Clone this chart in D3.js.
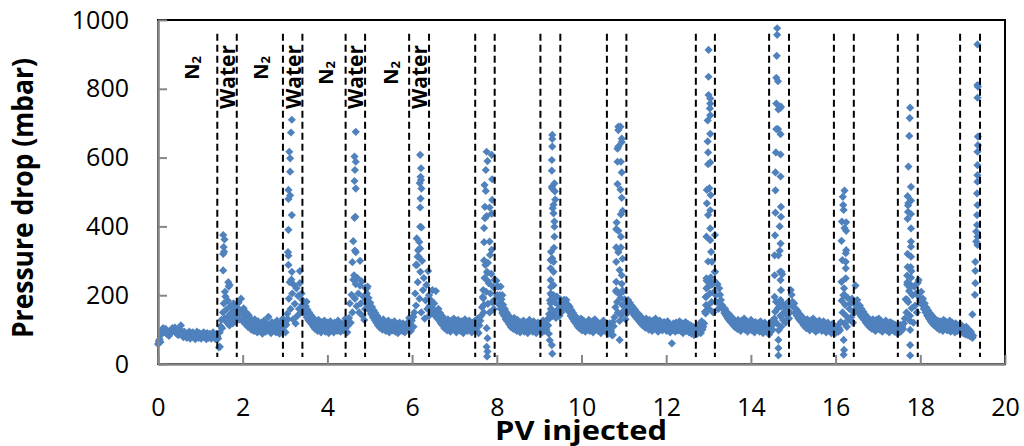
<!DOCTYPE html>
<html>
<head>
<meta charset="utf-8">
<script src="https://cdn.jsdelivr.net/npm/d3@7/dist/d3.min.js"></script>
<style>
  html, body { margin: 0; padding: 0; background: #fff; }
  svg { display: block; }
  text { font-family: "Open Sans", "Noto Sans", sans-serif; fill: #000; }
</style>
</head>
<body>
<svg id="chart" width="1024" height="446"></svg>
<script>
// Pressure drop recorded while alternating N2 and water slugs are injected.

// Axis ticks
const xTicks = [0, 2, 4, 6, 8, 10, 12, 14, 16, 18, 20];
const yTicks = [0, 200, 400, 600, 800, 1000];

// Boundaries of every water slug (PV injected): start and end
const slugStart = [1.40, 2.95, 4.43, 5.93, 7.49, 9.03, 10.60, 12.70, 14.43, 15.96, 17.47, 18.94];
const slugEnd   = [1.86, 3.41, 4.89, 6.40, 7.95, 9.50, 11.06, 13.15, 14.90, 16.43, 17.94, 19.41];

// Phase labels for the first four cycles
const gasLabelPV   = [0.78, 2.41, 3.94, 5.48];
const waterLabelPV = [1.63, 3.19, 4.65, 6.16];

// Continuous logging: each run spans [runStart, runEnd] with evenly sampled readings (mbar)
const runStart = [0.00, 1.42, 1.86, 2.95, 3.41, 4.43, 4.89, 5.93, 6.40, 7.49, 7.95, 9.03,
                  9.50, 10.60, 11.06, 12.70, 13.15, 14.43, 14.90, 15.96, 16.43, 17.47, 17.94, 18.94];
const runEnd   = [1.40, 1.86, 2.95, 3.41, 4.43, 4.89, 5.93, 6.40, 7.49, 7.95, 9.03, 9.50,
                  10.60, 11.06, 12.70, 13.15, 14.43, 14.90, 15.96, 16.43, 17.47, 17.94, 18.94, 19.25];
const runDP = [
  [58, 66, 72, 64, 86, 98, 104, 100, 94, 102, 90, 86, 94, 82, 88, 92, 98, 104, 100, 96, 106, 92, 88, 96, 84, 90, 100, 112, 92, 86, 78, 94, 84, 88, 76, 90, 82, 94, 74, 86, 80, 92, 78, 88, 72, 84, 94, 80, 76, 90, 84, 74, 88, 80, 92, 78, 84, 72, 90, 82, 76, 88, 80, 74, 86, 92, 78, 84, 72, 88, 80],
  [74, 48, 92, 110, 128, 104, 150, 176, 132, 196, 158, 120, 184, 140, 112, 168, 130, 150, 118, 176, 136, 160, 124, 146],
  [165, 142, 178, 130, 156, 190, 148, 124, 162, 138, 116, 150, 128, 108, 142, 120, 132, 100, 126, 112, 96, 130, 108, 118, 92, 124, 104, 114, 98, 120, 88, 110, 126, 102, 94, 116, 106, 137, 98, 112, 90, 122, 104, 96, 118, 108, 92, 126, 100, 114, 88, 106, 120, 98, 132],
  [108, 96, 125, 92, 114, 146, 130, 190, 238, 160, 245, 205, 130, 230, 175, 118, 220, 140, 198, 160, 235, 150, 205, 172],
  [186, 160, 176, 148, 168, 136, 158, 128, 150, 122, 142, 116, 136, 108, 130, 102, 124, 112, 96, 128, 106, 118, 92, 122, 110, 100, 126, 94, 114, 104, 120, 90, 108, 124, 98, 116, 102, 92, 120, 106, 112, 96, 126, 100, 110, 94, 118, 104, 98, 114, 120, 132],
  [104, 122, 92, 112, 134, 176, 120, 201, 150, 245, 258, 190, 232, 168, 250, 205, 150, 228, 176, 240, 140, 196, 128, 160],
  [222, 186, 205, 170, 192, 156, 178, 145, 166, 136, 156, 128, 148, 120, 140, 112, 132, 106, 126, 116, 100, 130, 110, 122, 96, 118, 106, 126, 92, 114, 102, 120, 98, 110, 124, 94, 116, 104, 90, 112, 120, 100, 108, 96, 118, 104, 92, 110, 100, 116, 122, 134],
  [112, 100, 96, 126, 137, 108, 150, 205, 170, 288, 238, 312, 190, 268, 150, 300, 215, 250, 132, 185, 230, 160, 270, 140],
  [200, 170, 186, 150, 215, 160, 176, 140, 212, 152, 132, 160, 126, 148, 118, 140, 112, 134, 104, 128, 118, 98, 130, 110, 122, 94, 126, 106, 116, 132, 100, 120, 92, 112, 128, 104, 118, 96, 124, 108, 90, 114, 130, 102, 120, 96, 110, 126, 100, 116, 92, 108, 122, 104, 126],
  [118, 104, 96, 132, 90, 112, 126, 140, 165, 195, 150, 250, 288, 210, 268, 175, 235, 150, 205, 262, 180, 225, 160, 245],
  [222, 190, 242, 200, 225, 175, 200, 160, 188, 148, 172, 140, 160, 130, 150, 124, 142, 116, 136, 108, 128, 120, 102, 134, 112, 124, 96, 128, 106, 118, 92, 122, 110, 100, 126, 94, 116, 104, 120, 90, 112, 128, 98, 118, 106, 94, 124, 102, 114, 90, 108, 120, 100, 112, 96],
  [108, 98, 92, 126, 104, 96, 118, 100, 130, 112, 145, 185, 160, 200, 140, 192, 150, 178, 134, 196, 158, 172, 140, 188],
  [170, 150, 181, 160, 186, 165, 178, 186, 158, 172, 152, 166, 140, 156, 132, 148, 124, 140, 118, 134, 110, 128, 104, 122, 132, 98, 116, 126, 108, 94, 120, 112, 102, 128, 96, 118, 106, 124, 92, 114, 130, 100, 110, 122, 96, 108, 118, 90, 112, 104, 126, 98, 110, 94, 116],
  [104, 92, 88, 118, 100, 96, 84, 122, 110, 136, 165, 210, 180, 150, 205, 125, 192, 142, 172, 210, 155, 188, 130, 168],
  [160, 148, 186, 167, 178, 158, 170, 150, 164, 142, 158, 136, 150, 130, 146, 124, 140, 118, 134, 112, 128, 120, 106, 132, 114, 124, 100, 128, 110, 118, 96, 126, 106, 116, 132, 102, 120, 94, 112, 126, 104, 118, 98, 114, 122, 110, 108, 96, 124, 104, 116, 92, 110, 60, 100, 118, 106, 94, 120, 108, 98, 114, 124, 96, 106, 118, 90, 112, 102, 122, 96, 108, 116, 92, 104, 112, 88, 100, 108, 84, 96, 90],
  [98, 108, 88, 114, 96, 104, 90, 124, 100, 108, 118, 152, 195, 242, 170, 225, 160, 205, 252, 180, 232, 150, 210, 240],
  [268, 200, 180, 232, 160, 220, 201, 186, 172, 162, 157, 148, 160, 140, 150, 132, 146, 126, 140, 120, 134, 114, 130, 108, 124, 116, 102, 128, 110, 120, 96, 126, 106, 118, 132, 100, 114, 124, 94, 110, 120, 104, 128, 98, 116, 108, 92, 122, 112, 100, 118, 106, 94, 124, 102, 114, 90, 108, 120, 98, 104, 112, 92, 86],
  [108, 100, 94, 124, 100, 116, 132, 152, 181, 118, 162, 98, 172, 140, 108, 176, 128, 150, 168, 120, 158, 140, 180, 132],
  [172, 150, 215, 201, 181, 165, 176, 148, 160, 140, 154, 132, 146, 126, 140, 120, 134, 112, 128, 120, 104, 130, 114, 124, 98, 126, 108, 118, 132, 102, 116, 94, 122, 110, 100, 126, 106, 118, 96, 112, 124, 102, 114, 92, 108, 120, 98, 110, 104, 90, 116, 100, 96],
  [100, 110, 90, 104, 110, 94, 104, 98, 122, 184, 150, 200, 118, 172, 140, 108, 192, 128, 160, 176, 136, 190, 120, 150],
  [176, 150, 228, 162, 186, 170, 148, 170, 140, 160, 134, 152, 128, 144, 120, 138, 114, 132, 108, 126, 118, 102, 130, 112, 124, 96, 128, 106, 118, 132, 100, 114, 124, 94, 110, 120, 104, 126, 98, 116, 108, 92, 122, 112, 100, 118, 106, 94, 114, 102, 90, 108],
  [106, 96, 92, 114, 96, 108, 102, 118, 132, 188, 150, 238, 180, 212, 140, 230, 162, 200, 120, 225, 170, 205, 150, 236],
  [205, 244, 193, 184, 210, 172, 190, 160, 176, 150, 164, 140, 156, 132, 148, 124, 142, 118, 136, 112, 130, 120, 106, 126, 114, 100, 124, 110, 118, 96, 128, 104, 116, 122, 98, 112, 106, 126, 94, 114, 120, 100, 110, 92, 118, 104, 96, 112, 100, 108],
  [104, 94, 112, 98, 90, 106, 100, 86, 108, 96, 84, 100, 92, 80, 94, 86, 76, 82]
];

// Pressure spikes while the water slugs pass: PV injected and pressure drop (mbar)
const spikePV = [
  1.54, 1.57, 1.55, 1.56, 1.54, 1.54, 1.66, 1.69, 1.67, 1.58, 1.46,
  3.16, 3.14, 3.10, 3.12, 3.12, 3.08, 3.12, 3.08, 3.16, 3.08, 3.07, 3.08, 3.08, 3.16, 3.35, 3.51,
  4.67, 4.64, 4.67, 4.65, 4.64, 4.67, 4.66, 4.64, 4.61, 4.65, 4.67, 4.59, 4.77, 4.93, 4.95,
  6.19, 6.21, 6.20, 6.21, 6.18, 6.22, 6.20, 6.19, 6.19, 6.22, 6.11, 6.17, 6.19, 6.14, 6.03, 6.13, 6.09,
  7.76, 7.88, 7.78, 7.74, 7.89, 7.71, 7.74, 7.89, 7.72, 7.83, 7.76, 7.72, 7.88, 7.70, 7.70, 7.83, 7.88,
  7.84, 7.70, 7.79, 7.78, 7.79, 7.68, 7.68, 7.70, 7.76, 7.78, 7.76, 7.78, 7.77, 8.09, 8.13, 8.05,
  9.31, 9.31, 9.31, 9.30, 9.30, 9.36, 9.30, 9.31, 9.37, 9.38, 9.34, 9.32, 9.34, 9.36, 9.36, 9.36, 9.35,
  9.28, 9.31, 9.27, 9.34, 9.27, 9.34, 9.27, 9.34, 9.28, 9.27, 9.34, 9.27, 9.31, 9.25, 9.23, 9.25, 9.31,
  9.30, 9.57, 9.60, 9.62,
  10.87, 10.92, 10.87, 10.95, 10.87, 10.85, 10.95, 10.85, 10.93, 10.95, 10.85, 10.92, 10.95, 10.97,
  10.93, 10.83, 10.82, 10.87, 10.93, 10.82, 10.93, 10.87, 10.97, 10.82, 10.90, 10.95, 10.82, 10.95,
  10.82, 10.90, 10.97, 10.90, 10.74,
  13.00, 13.00, 13.00, 13.04, 13.04, 13.03, 13.04, 12.98, 13.04, 12.98, 12.99, 13.04, 12.99, 13.02,
  12.96, 13.05, 12.96, 13.04, 12.99, 13.04, 12.95, 13.04, 13.06, 12.99, 13.08, 12.95, 13.05, 13.06,
  12.95, 12.94, 12.94, 12.93, 13.15, 13.15,
  14.62, 14.62, 14.61, 14.60, 14.64, 14.60, 14.65, 14.70, 14.71, 14.60, 14.64, 14.70, 14.59, 14.70,
  14.58, 14.70, 14.58, 14.71, 14.58, 14.71, 14.68, 14.57, 14.70, 14.68, 14.56, 14.65, 14.56, 14.69,
  14.72, 14.70, 14.74, 14.71, 14.56, 14.70, 14.71, 14.65, 14.65, 14.65,
  16.21, 16.17, 16.18, 16.19, 16.15, 16.25, 16.21, 16.25, 16.14, 16.25, 16.24, 16.16, 16.24, 16.24,
  16.24, 16.14, 16.20, 16.21, 16.19, 16.20, 16.19,
  17.76, 17.75, 17.74, 17.72, 17.78, 17.70, 17.78, 17.72, 17.71, 17.71, 17.70, 17.78, 17.78, 17.78,
  17.78, 17.70, 17.78, 17.70, 17.77, 17.79, 17.69, 17.78, 17.69, 17.76, 17.68, 17.76, 17.76, 17.76, 17.76,
  19.35, 19.35, 19.36, 19.35, 19.36, 19.36, 19.35, 19.35, 19.35, 19.35, 19.34, 19.35, 19.34, 19.34,
  19.35, 19.32, 19.35, 19.32, 19.30, 19.30, 19.30, 19.29, 19.23
];
const spikeDP = [
  375, 362, 340, 326, 320, 272, 238, 230, 225, 210, 50,
  710, 673, 617, 598, 559, 506, 490, 480, 433, 390, 325, 315, 288, 268, 270, 181,
  675, 603, 588, 564, 532, 510, 428, 425, 357, 330, 325, 296, 300, 220, 225,
  608, 569, 544, 535, 526, 510, 481, 455, 399, 397, 365, 355, 336, 331, 137, 312, 288,
  617, 608, 590, 564, 537, 520, 503, 477, 457, 455, 430, 424, 437, 395, 354, 356, 332,
  317, 301, 294, 265, 241, 215, 191, 172, 104, 75, 50, 36, 22, 225, 200, 173,
  666, 654, 632, 593, 562, 525, 515, 510, 502, 478, 463, 453, 438, 414, 399, 370, 338,
  326, 307, 302, 297, 278, 268, 244, 229, 224, 205, 200, 176, 157, 133, 88, 69, 30,
  55, 181, 186, 172,
  690, 690, 680, 655, 632, 626, 645, 588, 588, 557, 523, 507, 483, 445,
  435, 411, 392, 387, 370, 339, 339, 325, 306, 297, 273, 258, 239, 233,
  214, 204, 214, 70, 84,
  913, 835, 782, 772, 757, 743, 723, 708, 669, 647, 615, 586, 581, 511,
  506, 491, 467, 447, 433, 394, 370, 360, 326, 298, 297, 249, 239, 230,
  220, 195, 171, 147, 375, 268,
  976, 957, 896, 832, 822, 757, 740, 745, 748, 683, 683, 668, 615, 609,
  557, 545, 505, 457, 440, 428, 400, 374, 350, 329, 316, 316, 258, 268,
  268, 244, 261, 215, 195, 186, 167, 70, 46, 25,
  504, 486, 462, 448, 414, 412, 395, 387, 358, 331, 322, 302, 297, 278,
  249, 239, 220, 201, 70, 41, 27,
  745, 715, 663, 574, 515, 488, 475, 468, 461, 442, 422, 436, 394, 356,
  341, 320, 312, 282, 282, 270, 257, 251, 231, 222, 188, 125, 99, 55, 25,
  929, 811, 806, 774, 661, 636, 617, 578, 549, 530, 496, 462, 433, 404,
  370, 385, 346, 356, 297, 271, 235, 201, 144
];

// Vertical reach of the phase boundary lines (mbar)
const boundaryDP = [20, 960];

const svg = d3.select("#chart");
const x = d3.scaleLinear().domain([0, 20]).range([158, 1005]);
const y = d3.scaleLinear().domain([0, 1000]).range([364, 20]);

// Assemble the point list
const points = [];
runDP.forEach((vals, k) => {
  const step = (runEnd[k] - runStart[k]) / (vals.length - 1);
  vals.forEach((v, i) => points.push({ pv: runStart[k] + i * step, dp: v }));
});
spikePV.forEach((pv, i) => points.push({ pv: pv, dp: spikeDP[i] }));

// Plot-area frame
svg.append("rect")
  .attr("x", x(0)).attr("y", y(1000))
  .attr("width", x(20) - x(0)).attr("height", y(0) - y(1000))
  .attr("fill", "none").attr("stroke", "#000").attr("stroke-width", 2);

// Data markers (diamonds)
const r = 4.1;
svg.append("g").selectAll("path").data(points).join("path")
  .attr("transform", d => `translate(${x(d.pv)},${y(d.dp)})`)
  .attr("d", `M0,${-r}L${r},0L0,${r}L${-r},0Z`)
  .attr("fill", "#4F81BD");

// Phase boundaries
const bounds = slugStart.concat(slugEnd);
svg.append("g").selectAll("line").data(bounds).join("line")
  .attr("x1", d => x(d)).attr("x2", d => x(d))
  .attr("y1", y(boundaryDP[1])).attr("y2", y(boundaryDP[0]))
  .attr("stroke", "#000").attr("stroke-width", 2)
  .attr("stroke-dasharray", "7,4");

// Axes
const axisColor = "#868686";
const gx = svg.append("g").attr("transform", `translate(0,${y(0)})`)
  .call(d3.axisBottom(x).tickValues(xTicks).tickFormat(d3.format("d"))
    .tickSize(-9).tickSizeOuter(0).tickPadding(34));
const gy = svg.append("g").attr("transform", `translate(${x(0)},0)`)
  .call(d3.axisLeft(y).tickValues(yTicks).tickFormat(d3.format("d"))
    .tickSize(-9).tickSizeOuter(0).tickPadding(29));
[gx, gy].forEach(g => {
  g.select(".domain").attr("stroke", axisColor).attr("stroke-width", 2.6);
  g.selectAll(".tick line").attr("stroke", axisColor).attr("stroke-width", 2);
  g.selectAll(".tick text").attr("font-size", 25).attr("font-family", "Open Sans").attr("fill", "#000");
});

// Axis titles
svg.append("text")
  .attr("x", 581).attr("y", 440)
  .attr("text-anchor", "middle")
  .attr("font-size", 26).attr("font-weight", 700)
  .attr("textLength", 172).attr("lengthAdjust", "spacingAndGlyphs")
  .text("PV injected");
svg.append("text")
  .attr("transform", "translate(33,198) rotate(-90)")
  .attr("text-anchor", "middle")
  .attr("font-size", 28).attr("font-weight", 700)
  .attr("textLength", 280).attr("lengthAdjust", "spacingAndGlyphs")
  .text("Pressure drop (mbar)");

// Phase labels
const gasLabelY = [68, 68, 73, 73];
gasLabelPV.forEach((pv, i) => {
  const t = svg.append("text")
    .attr("transform", `translate(${x(pv)},${gasLabelY[i]}) rotate(-90)`)
    .attr("text-anchor", "middle").attr("dominant-baseline", "central")
    .attr("font-size", 20).attr("font-weight", 700);
  t.append("tspan").text("N");
  t.append("tspan").attr("font-size", 13).attr("dy", 5).text("2");
});
waterLabelPV.forEach(pv => {
  svg.append("text")
    .attr("transform", `translate(${x(pv)},77) rotate(-90)`)
    .attr("text-anchor", "middle").attr("dominant-baseline", "central")
    .attr("font-size", 21).attr("font-weight", 700)
    .text("Water");
});
</script>
</body>
</html>
